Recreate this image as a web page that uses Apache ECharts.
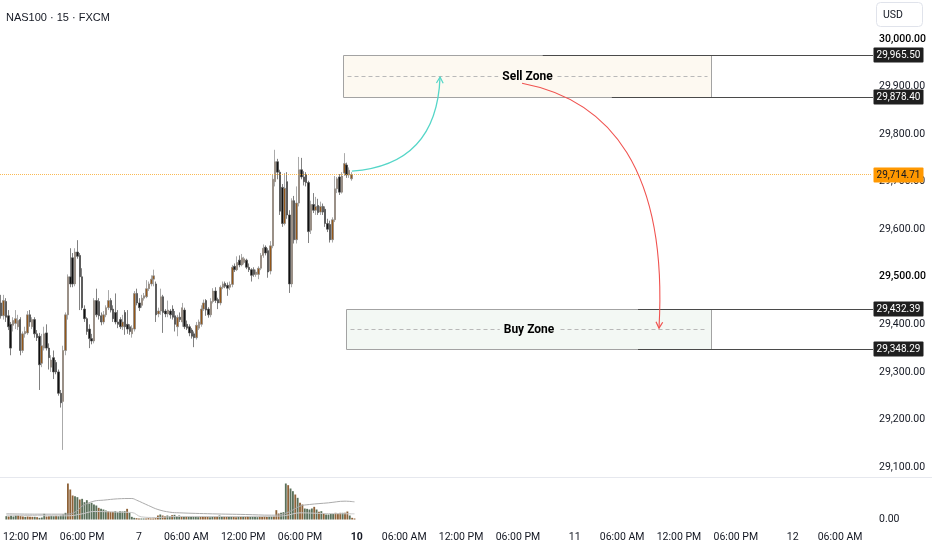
<!DOCTYPE html>
<html><head><meta charset="utf-8">
<script src="https://cdn.jsdelivr.net/npm/echarts@6/dist/echarts.min.js"></script>
<style>html,body{margin:0;padding:0;background:#fff;overflow:hidden}#c{width:932px;height:550px}</style>
</head><body><div id="c"></div>
<script>
// ---------- DATA ----------
const title = 'NAS100 · 15 · FXCM';
const currency = 'USD';
// 15-minute sessions shown on the time axis
const sessions = [
  {day:'6',  from:'10:00', to:'23:45'},
  {day:'7',  from:'01:00', to:'23:45'},
  {day:'10', from:'01:00', to:'23:45'},
  {day:'11', from:'01:00', to:'23:45'},
  {day:'12', from:'01:00', to:'09:15'}
];
const sessionOpen = '01:00';
const timeTickLabels = {'06:00':'06:00 AM','12:00':'12:00 PM','18:00':'06:00 PM'};
const weekStartDays = ['10'];
const priceTicks = [29100,29200,29300,29400,29500,29600,29700,29800,29900,30000];
const boldPriceTicks = [29500,30000];
const priceMin = 29079, priceMax = 30082;
// [open, high, low, close]
const ohlc = [
[29445,29462,29412,29418],[29418,29462,29410,29450],[29448,29455,29405,29415],[29418,29430,29388,29395],
[29400,29405,29335,29350],[29398,29415,29385,29408],[29402,29430,29390,29412],[29395,29420,29388,29408],
[29410,29415,29335,29345],[29345,29385,29340,29380],[29380,29395,29372,29385],[29382,29428,29378,29420],
[29420,29430,29395,29405],[29395,29415,29390,29410],[29410,29415,29372,29380],[29380,29388,29365,29372],
[29375,29382,29262,29315],[29318,29380,29310,29355],[29350,29395,29345,29380],[29382,29400,29345,29350],
[29350,29360,29305,29330],[29310,29335,29300,29325],[29330,29345,29285,29300],[29320,29325,29295,29300],
[29300,29305,29250,29255],[29255,29262,29225,29235],[29238,29355,29136,29345],[29345,29425,29335,29420],
[29420,29505,29410,29500],[29500,29560,29478,29485],[29540,29550,29478,29485],[29485,29560,29480,29552],
[29552,29577,29538,29543],[29545,29550,29430,29500],[29500,29518,29430,29435],[29432,29440,29405,29412],
[29412,29415,29378,29385],[29390,29400,29350,29370],[29370,29380,29358,29365],[29365,29455,29360,29450],
[29450,29475,29415,29420],[29448,29455,29410,29418],[29418,29425,29398,29405],[29405,29428,29400,29420],
[29420,29440,29415,29435],[29435,29472,29430,29450],[29450,29455,29425,29430],[29432,29440,29405,29412],
[29425,29465,29400,29405],[29405,29430,29392,29400],[29410,29415,29390,29395],[29395,29420,29388,29405],
[29425,29430,29378,29395],[29400,29430,29380,29390],[29395,29400,29378,29385],[29380,29398,29372,29392],
[29390,29470,29385,29465],[29465,29475,29440,29445],[29445,29455,29428,29435],[29440,29462,29435,29455],
[29455,29466,29450,29460],[29458,29493,29455,29475],[29475,29490,29470,29485],[29485,29503,29480,29495],
[29495,29515,29480,29502],[29485,29490,29405,29420],[29422,29435,29415,29428],[29428,29475,29420,29458],
[29458,29462,29382,29425],[29428,29432,29415,29422],[29422,29450,29415,29430],[29428,29432,29412,29420],
[29432,29440,29410,29415],[29418,29428,29385,29400],[29395,29420,29375,29415],[29415,29425,29405,29410],
[29405,29445,29395,29435],[29430,29435,29390,29395],[29400,29408,29388,29392],[29395,29400,29375,29382],
[29388,29392,29370,29375],[29380,29385,29352,29372],[29372,29405,29368,29398],[29392,29410,29388,29405],
[29400,29440,29395,29432],[29432,29452,29428,29445],[29450,29453,29418,29430],[29432,29436,29414,29420],
[29420,29455,29415,29448],[29448,29476,29444,29470],[29470,29478,29445,29450],[29452,29456,29432,29445],
[29445,29482,29440,29478],[29478,29490,29474,29485],[29486,29490,29476,29480],[29482,29488,29460,29476],
[29478,29490,29472,29484],[29484,29525,29478,29520],[29522,29528,29510,29515],[29515,29543,29512,29530],
[29535,29545,29520,29525],[29525,29548,29522,29540],[29530,29542,29526,29538],[29535,29538,29516,29520],
[29520,29528,29510,29515],[29515,29518,29490,29503],[29515,29520,29500,29505],[29505,29515,29500,29510],
[29505,29522,29495,29518],[29518,29550,29514,29545],[29545,29568,29540,29560],[29562,29566,29545,29550],
[29555,29560,29498,29510],[29512,29575,29505,29565],[29565,29715,29560,29705],[29700,29767,29690,29742],
[29742,29748,29705,29720],[29720,29725,29630,29638],[29688,29695,29605,29612],[29612,29718,29608,29686],
[29700,29720,29622,29630],[29630,29640,29466,29485],[29485,29665,29478,29660],[29660,29670,29570,29578],
[29578,29690,29570,29655],[29655,29752,29648,29725],[29725,29750,29705,29710],[29710,29722,29692,29700],
[29715,29720,29690,29698],[29698,29702,29571,29595],[29598,29660,29590,29652],[29652,29676,29634,29640],
[29640,29668,29630,29648],[29650,29664,29630,29635],[29636,29658,29630,29648],[29648,29654,29630,29636],
[29642,29648,29605,29612],[29612,29622,29594,29600],[29610,29618,29572,29578],[29578,29625,29572,29620],
[29620,29712,29615,29685],[29685,29710,29676,29706],[29710,29716,29672,29678],[29678,29720,29675,29712],
[29718,29760,29712,29738],[29735,29740,29708,29714],[29714,29730,29708,29724],[29706,29720,29702,29714.71]
];
const volume = [
10,9,11,9,12,13,10,9,8,9,8,8,8,7,5,6,17,9,10,11,10,11,10,12,15,20,
108,90,72,70,67,60,62,52,58,48,50,45,42,35,32,30,27,25,23,23,25,22,25,24,25,32,20,8,5,4,
3,3,3,3,4,3,3,4,
12,15,12,10,12,10,13,14,10,12,8,10,
9,8,10,8,9,7,8,9,10,8,7,9,8,9,12,9,8,9,10,8,8,7,9,8,9,8,10,8,9,8,7,9,8,10,8,9,9,10,
28,18,20,22,108,103,93,85,75,65,50,45,33,32,30,33,38,30,23,25,18,15,15,17,17,20,18,20,20,20,24,12,5,3
];
const volumeMax = 121.5;
// volume average lines, read at points [bar index, value]
const volAvgLong = [[0,17],[13,16],[25,16],[29,22],[32,40],[37,55],[41,58],[47,62],[53,63],[55,58],[60,42],[64,30],[69,22],[73,20],[87,17],[101,15],[112,13],[116,15],[120,25],[124,40],[128,45],[136,50],[143,55],[147,53]];
const volAvgShort = [[0,13],[26,11],[32,17],[37,24],[48,22],[53,21],[57,8],[63,6],[72,9],[100,9],[114,10],[118,12],[124,20],[134,18],[147,17]];
const lastPrice = 29714.71;
// drawings: bar index (fractional) and price
const sellZone = {from:143.4, to:298, top:29965.50, bottom:29878.40, label:'Sell Zone'};
const buyZone  = {from:144.6, to:298, top:29432.39, bottom:29348.29, label:'Buy Zone'};
const priceLines = [{price:29965.50, from:227.3},{price:29878.40, from:256.3},{price:29432.39, from:267.3},{price:29348.29, from:267.3}];
const cyanArrow = {start:[147.2,29722], ctrl:[182.8,29735], end:[184.2,29920]};
const redArrow  = {start:[218.6,29907], c1:[255.5,29872], c2:[279.8,29725], end:[276.1,29392]};

// ---------- STYLE ----------
const FONT = "Roboto, 'Liberation Sans', sans-serif";
const TEXT = '#131722';
const UP = '#935719', DOWN = '#111111', WICK_UP = '#858585', WICK_DOWN = '#4a4a4a';
const VOL_UP = '#8e6238', VOL_DOWN = '#5a705a';
const SELL_FILL = '#fdf9f1', BUY_FILL = '#f3f8f4';
const PLOT_W = 872;

// ---------- BUILD ----------
const categories = [];
sessions.forEach(s => {
  let [h, m] = s.from.split(':').map(Number);
  const [eh, em] = s.to.split(':').map(Number);
  while (h * 60 + m <= eh * 60 + em) {
    categories.push(s.day + ' ' + String(h).padStart(2,'0') + ':' + String(m).padStart(2,'0'));
    m += 15; if (m >= 60) { m -= 60; h++; }
  }
});
function timeLabel(cat, idx) {
  const [d, t] = cat.split(' ');
  if (t === sessionOpen && idx > 0) return weekStartDays.includes(d) ? '{b|' + d + '}' : d;
  return timeTickLabels[t] || '';
}
const fmt = v => Number(v).toLocaleString('en-US', {minimumFractionDigits:2, maximumFractionDigits:2});
const candleData = ohlc.map(r => [r[0], r[3], r[2], r[1]]);
const volData = volume.map((v, i) => ({value: v, itemStyle: {color: ohlc[i][3] >= ohlc[i][0] ? VOL_UP : VOL_DOWN}}));

const chart = echarts.init(document.getElementById('c'), null, {renderer:'canvas'});
const option = {
  animation: false,
  backgroundColor: '#ffffff',
  grid: [
    {left: 0, top: 0, width: PLOT_W, height: 477},
    {left: 0, top: 479, width: PLOT_W, height: 40.5}
  ],
  xAxis: [
    {type:'category', gridIndex:0, data:categories, boundaryGap:true,
     axisLine:{show:false}, axisTick:{show:false}, axisLabel:{show:false}, splitLine:{show:false}},
    {type:'category', gridIndex:1, data:categories, boundaryGap:true,
     axisLine:{show:false}, axisTick:{show:false}, splitLine:{show:false},
     axisLabel:{show:true, interval:(i, v) => timeLabel(v, i) !== '', formatter:(v, i) => timeLabel(v, i),
       margin:12, color:TEXT, fontSize:10.5, fontFamily:FONT,
       rich:{b:{fontWeight:'bold', fontSize:10.5, fontFamily:FONT, color:TEXT}}}}
  ],
  yAxis: [
    {type:'value', gridIndex:0, position:'right', min:priceMin, max:priceMax, scale:true,
     axisLine:{show:false}, axisTick:{show:false}, splitLine:{show:false},
     axisLabel:{customValues:priceTicks, margin:7, color:TEXT, fontSize:10.5, fontFamily:FONT,
       formatter:v => boldPriceTicks.includes(v) ? '{b|' + fmt(v) + '}' : fmt(v),
       rich:{b:{fontWeight:500, fontSize:10.5, fontFamily:FONT, color:'#000'}}}},
    {type:'value', gridIndex:1, position:'right', min:0, max:volumeMax,
     axisLine:{show:false}, axisTick:{show:false}, splitLine:{show:false},
     axisLabel:{customValues:[0], margin:7, color:TEXT, fontSize:10.5, fontFamily:FONT, formatter:v => fmt(v)}}
  ],
  series: [
    {type:'candlestick', xAxisIndex:0, yAxisIndex:0, data:candleData, barWidth:'82%',
     itemStyle:{color:UP, color0:DOWN, borderColor:WICK_UP, borderColor0:WICK_DOWN, borderWidth:0.7},
     markLine:{silent:true, symbol:['none','none'], label:{show:false},
       lineStyle:{color:'#f7a21b', type:'dotted', width:1, opacity:0.75},
       data:[{yAxis:lastPrice}]}},
    {type:'bar', xAxisIndex:1, yAxisIndex:1, data:volData, barWidth:'78%'},
    {type:'line', xAxisIndex:1, yAxisIndex:1, data:volAvgLong, smooth:0.4, showSymbol:false, connectNulls:true,
     lineStyle:{color:'#ababab', width:1}, z:5},
    {type:'line', xAxisIndex:1, yAxisIndex:1, data:volAvgShort, smooth:0.4, showSymbol:false, connectNulls:true,
     lineStyle:{color:'#c9c9c9', width:1}, z:5}
  ]
};
chart.setOption(option);

// ---------- DRAWINGS via the chart's own scales ----------
function P(i, p) {
  const a = chart.convertToPixel({xAxisIndex:0, yAxisIndex:0}, [0, p]);
  const b = chart.convertToPixel({xAxisIndex:0, yAxisIndex:0}, [1, p]);
  return [a[0] + (b[0] - a[0]) * i, a[1]];
}
const crisp = v => Math.round(v) + 0.5;
const g = [];
// pane separator
g.push({type:'line', shape:{x1:0, y1:477.5, x2:932, y2:477.5}, style:{stroke:'#e6e8ee', lineWidth:1}, z:1});
// zones
[[sellZone, SELL_FILL], [buyZone, BUY_FILL]].forEach(([z, fill]) => {
  const a = P(z.from, z.top), b = P(z.to, z.bottom);
  const x1 = crisp(a[0]), y1 = crisp(a[1]), x2 = crisp(b[0]), y2 = crisp(b[1]);
  g.push({type:'rect', shape:{x:x1, y:y1, width:x2 - x1, height:y2 - y1}, style:{fill:fill, stroke:'#a3a3a3', lineWidth:1}, z:10});
  const my = crisp(P(z.from, (z.top + z.bottom) / 2)[1]);
  g.push({type:'line', shape:{x1:x1 + 4, y1:my, x2:x2 - 4, y2:my}, style:{stroke:'#b9b9b9', lineDash:[4,3], lineWidth:1}, z:11});
  g.push({type:'text', x:(x1 + x2) / 2, y:my, z:12,
    style:{text:z.label, fill:'#000', font:'bold 12px ' + FONT, align:'center', verticalAlign:'middle', backgroundColor:fill, padding:[1,4]}});
});
// horizontal rays to the price scale
priceLines.forEach(l => {
  const a = P(l.from, l.price);
  g.push({type:'line', shape:{x1:a[0], y1:crisp(a[1]), x2:PLOT_W + 1, y2:crisp(a[1])}, style:{stroke:'#4a4a4a', lineWidth:1}, z:13});
});
// arrows
function head(tip, from, color) {
  const ang = Math.atan2(tip[1] - from[1], tip[0] - from[0]);
  const L = 7, s = 0.5;
  return {type:'polyline', z:15, shape:{points:[
    [tip[0] + L * Math.cos(ang + Math.PI - s), tip[1] + L * Math.sin(ang + Math.PI - s)], tip,
    [tip[0] + L * Math.cos(ang + Math.PI + s), tip[1] + L * Math.sin(ang + Math.PI + s)]]},
    style:{stroke:color, fill:null, lineWidth:1.2}};
}
{
  const s = P(...cyanArrow.start), c = P(...cyanArrow.ctrl), e = P(...cyanArrow.end);
  g.push({type:'bezierCurve', z:15, shape:{x1:s[0], y1:s[1], cpx1:c[0], cpy1:c[1], x2:e[0], y2:e[1]}, style:{stroke:'#55d6c8', fill:null, lineWidth:1.3}});
  g.push(head(e, c, '#55d6c8'));
}
{
  const s = P(...redArrow.start), c1 = P(...redArrow.c1), c2 = P(...redArrow.c2), e = P(...redArrow.end);
  g.push({type:'bezierCurve', z:15, shape:{x1:s[0], y1:s[1], cpx1:c1[0], cpy1:c1[1], cpx2:c2[0], cpy2:c2[1], x2:e[0], y2:e[1]}, style:{stroke:'#f0524f', fill:null, lineWidth:1.1}});
  g.push(head(e, c2, '#f0524f'));
}
// price-scale labels
function priceTag(price, bg, fg) {
  const y = P(0, price)[1];
  g.push({type:'rect', z:20, shape:{x:873.5, y:Math.round(y) - 7.5, width:50, height:15, r:1}, style:{fill:bg}});
  g.push({type:'text', z:21, x:898.5, y:Math.round(y), style:{text:fmt(price), fill:fg, font:'10px ' + FONT, verticalAlign:'middle', align:'center'}});
}
priceLines.forEach(l => priceTag(l.price, '#1f1f1f', '#ffffff'));
priceTag(lastPrice, '#ff9800', TEXT);
// currency button and title
g.push({type:'rect', z:20, shape:{x:876.5, y:2.5, width:46, height:24, r:4}, style:{fill:'#ffffff', stroke:'#e0e3eb', lineWidth:1}});
g.push({type:'text', z:21, x:883, y:15, style:{text:currency, fill:TEXT, font:'10.5px ' + FONT, verticalAlign:'middle'}});
g.push({type:'text', z:21, x:6, y:18, style:{text:title, fill:TEXT, font:'11px "Liberation Sans", Arial, sans-serif', verticalAlign:'middle'}});
chart.setOption({graphic: g});
</script>
</body></html>
